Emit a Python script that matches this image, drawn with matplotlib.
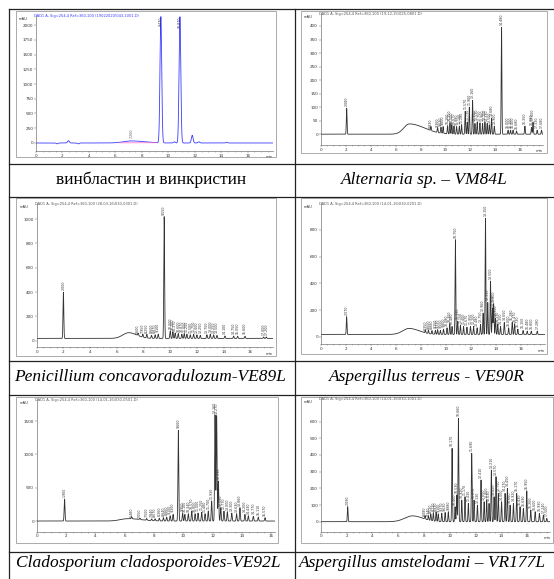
import numpy as np
import matplotlib
matplotlib.use('Agg')
import matplotlib.pyplot as plt
from matplotlib.lines import Line2D
from matplotlib.patches import Rectangle

W, H = 554, 579

# ---- peak tables (retention time, min / height above baseline, mAU)
p1_rt = [1.6, 2.45, 3.2, 9.43, 10.45, 10.87, 11.8, 12.3, 14.4]
p1_h = [-15, 40, -15, 2140, 20, 2140, 130, 20, 10]
p1_hump = [7.2, 35]
p1_base = 0

p2_rt = [2.08, 8.83, 9.36, 9.63, 9.8, 10.16, 10.35, 10.5, 10.67, 10.88, 11.1, 11.28, 11.57,
         11.73, 11.9, 12.16, 12.35, 12.53, 12.75, 12.96, 13.15, 13.33, 13.5, 13.68, 13.9,
         14.48, 15.0, 15.2, 15.4, 15.68, 16.35, 16.88, 17.0, 17.33, 17.68]
p2_h = [95, 15, 18, 22, 25, 30, 40, 35, 30, 28, 30, 35, 85,
        45, 100, 125, 40, 45, 42, 40, 45, 40, 35, 60, 30,
        395, 15, 15, 15, 12, 30, 25, 45, 15, 15]
p2_hump = [7.1, 38]
p2_base = 0

p3_rt = [2.0, 7.6, 7.95, 8.25, 8.6, 8.87, 9.1, 9.55, 10.0, 10.2, 10.37, 10.6, 10.87, 11.05,
         11.25, 11.5, 11.75, 12.0, 12.25, 12.75, 13.0, 13.25, 13.5, 14.1, 14.75, 15.05,
         15.6, 17.0, 17.2]
p3_h = [380, 20, 25, 30, 25, 30, 35, 1000, 60, 55, 45, 40, 35, 40,
        35, 30, 35, 30, 25, 30, 35, 30, 25, 20, 20, 18,
        18, 12, 12]
p3_hump = [6.9, 47]
p3_base = 19

p4_rt = [2.07, 8.35, 8.6, 8.88, 9.15, 9.33, 9.55, 9.8, 10.08, 10.3, 10.48, 10.75, 10.93,
         11.15, 11.4, 11.67, 11.95, 12.2, 12.48, 12.75, 12.96, 13.15, 13.33, 13.55, 13.7,
         13.8, 13.95, 14.13, 14.35, 14.65, 15.0, 15.28, 15.47, 15.73, 16.15, 16.48, 16.8, 17.28]
p4_h = [133, 20, 25, 25, 30, 35, 30, 40, 50, 80, 60, 710, 100,
        70, 60, 55, 60, 60, 50, 75, 160, 870, 240, 400, 200,
        230, 120, 80, 60, 90, 50, 90, 80, 40, 30, 25, 25, 25]
p4_hump = [7.05, 45]
p4_base = 17

p5_rt = [1.9, 6.48, 7.05, 7.5, 7.84, 8.07, 8.36, 8.64, 8.86, 9.1, 9.3, 9.66, 9.95, 10.1,
         10.34, 10.57, 10.8, 11.0, 11.25, 11.48, 11.7, 11.93, 12.16, 12.27, 12.39, 12.55,
         12.77, 13.0, 13.3, 13.63, 13.86, 14.2, 14.43, 14.77, 15.11, 15.57]
p5_h = [330, 30, 20, 25, 25, 30, 40, 50, 60, 80, 100, 1360, 120, 100,
        110, 150, 110, 120, 130, 110, 150, 300, 1590, 1580, 600, 200,
        150, 140, 120, 110, 200, 100, 80, 70, 60, 50]
p5_hump = [6.2, 35]
p5_base = 0

p6_rt = [2.09, 8.08, 8.34, 8.52, 8.72, 8.93, 9.1, 9.37, 9.63, 9.88, 10.17, 10.4, 10.53,
         10.66, 10.92, 11.17, 11.43, 11.69, 11.87, 12.13, 12.41, 12.65, 12.85, 13.03, 13.21,
         13.42, 13.57, 13.75, 14.0, 14.27, 14.45, 14.66, 14.92, 15.17, 15.43, 15.69, 15.95,
         16.26, 16.6, 16.93, 17.24, 17.5]
p6_h = [90, 20, 25, 40, 50, 55, 45, 50, 55, 60, 440, 90, 160,
        620, 130, 150, 110, 410, 130, 100, 250, 120, 130, 110, 310,
        150, 270, 170, 120, 170, 200, 100, 110, 170, 90, 80, 185,
        70, 60, 50, 40, 20]
p6_hump = [7.1, 35]
p6_base = 0

captions = ['винбластин и винкристин', 'Alternaria sp. – VM84L',
            'Penicillium concavoradulozum-VE89L', 'Aspergillus terreus - VE90R',
            'Cladosporium cladosporoides-VE92L', 'Aspergillus amstelodami – VR177L']
headers = ['DAD1 A, Sig=254,4 Ref=360,100 (19022020\\043-1001.D)',
           'DAD1 A, Sig=254,4 Ref=360,100 (19-12-15\\025-0801.D)',
           'DAD1 A, Sig=254,4 Ref=360,100 (28-03-16\\030-0301.D)',
           'DAD1 A, Sig=254,4 Ref=360,100 (14-01-16\\030-0201.D)',
           'DAD1 A, Sig=254,4 Ref=360,100 (14-01-16\\030-0501.D)',
           'DAD1 A, Sig=254,4 Ref=360,100 (14-01-16\\030-1001.D)']

panels = [
    dict(rt=p1_rt, h=p1_h, hump=p1_hump, base=p1_base, box=(36, 273, 15, 151),
         frame=(16, 11, 276, 157), xmax=17.9, ylim=(-136, 2170), ystep=250, ytop=2000,
         sig=0.065, wl=0.6, wr=1.0, color='#3b3bff', lab_min=200, unit=True),
    dict(rt=p2_rt, h=p2_h, hump=p2_hump, base=p2_base, box=(320.7, 543, 13, 145),
         frame=(300.7, 11, 547, 153), xmax=17.8, ylim=(-40, 448), ystep=50, ytop=400,
         sig=0.028, wl=0.45, wr=1.2, color='#333333', lab_min=0, unit=True),
    dict(rt=p3_rt, h=p3_h, hump=p3_hump, base=p3_base, box=(36.7, 273, 203.3, 347.3),
         frame=(16, 198, 276, 356), xmax=17.7, ylim=(-54, 1129), ystep=200, ytop=1000,
         sig=0.03, wl=0.45, wr=0.6, color='#333333', lab_min=0, unit=True),
    dict(rt=p4_rt, h=p4_h, hump=p4_hump, base=p4_base, box=(320.7, 545, 203.3, 344.3),
         frame=(300.7, 198, 547, 354), xmax=17.9, ylim=(-57, 1000), ystep=200, ytop=800,
         sig=0.028, wl=0.5, wr=0.8, color='#333333', lab_min=0, unit=True),
    dict(rt=p5_rt, h=p5_h, hump=p5_hump, base=p5_base, box=(36.7, 275, 399, 531.7),
         frame=(16, 397, 278, 543), xmax=16.25, ylim=(-160, 1830), ystep=500, ytop=1500,
         sig=0.028, wl=0.5, wr=0.9, color='#333333', lab_min=0, unit=False),
    dict(rt=p6_rt, h=p6_h, hump=p6_hump, base=p6_base, box=(320.7, 550, 398.3, 531.7),
         frame=(300.7, 397, 553, 543), xmax=17.75, ylim=(-60, 740), ystep=100, ytop=600,
         sig=0.028, wl=0.6, wr=0.8, color='#333333', lab_min=0, unit=True),
]

fig = plt.figure(figsize=(W / 100, H / 100), dpi=100)
fig.patch.set_facecolor('white')


def fx(x):
    return x / W


def fy(y):
    return 1 - y / H


for i, p in enumerate(panels):
    fl, ft, fr, fb = p['frame']
    fig.add_artist(Rectangle((fx(fl), fy(fb)), (fr - fl) / W, (fb - ft) / H,
                             transform=fig.transFigure, fill=False, ec='#8a8a8a', lw=0.5))
    l, r, t, b = p['box']
    ax = fig.add_axes([fx(l), fy(b), (r - l) / W, (b - t) / H])
    ax.set_xlim(0, p['xmax'])
    ax.set_ylim(*p['ylim'])

    x = np.linspace(0, p['xmax'], 6000)
    y = np.full_like(x, float(p['base']))
    for rt, h in zip(p['rt'], p['h']):
        y += h * np.exp(-0.5 * ((x - rt) / p['sig']) ** 2)
    hrt, hh = p['hump']
    w = np.where(x < hrt, p['wl'], p['wr'])
    y += hh * np.exp(-0.5 * ((x - hrt) / w) ** 2)
    ax.plot(x, y, color=p['color'], lw=0.6)
    if i == 0:
        ax.plot([6.3, 9.1], [2, 4], color='#ff66cc', lw=0.5)

    # peak labels (retention times), rotated like the instrument printout
    upp = (p['ylim'][1] - p['ylim'][0]) / (b - t)
    lab_len = 11 * upp
    for rt, h in zip(p['rt'], p['h']):
        if h < p['lab_min'] or h <= 0:
            continue
        top = p['base'] + h + 2 * upp
        if top + lab_len > p['ylim'][1]:
            ax.text(rt, p['ylim'][1] - upp, '%.3f' % rt, rotation=90, fontsize=2.3,
                    ha='center', va='top', color='#333333', clip_on=False)
        else:
            ax.text(rt, top, '%.3f' % rt, rotation=90, fontsize=2.3,
                    ha='center', va='bottom', color='#333333')
    if i == 0:
        ax.text(hrt, p['base'] + hh + 3 * upp, '%.3f' % hrt, rotation=90, fontsize=2.3,
                ha='center', va='bottom', color='#555555')

    for s in ['top', 'right']:
        ax.spines[s].set_visible(False)
    for s in ['left', 'bottom']:
        ax.spines[s].set_linewidth(0.4)
        ax.spines[s].set_color('#555555')
    ax.set_yticks(np.arange(0, p['ytop'] + 1, p['ystep']))
    ax.set_xticks(np.arange(0, p['xmax'], 2))
    ax.set_xticks(np.arange(0, p['xmax'], 0.5), minor=True)
    ax.tick_params(axis='both', labelsize=3, length=1.2, width=0.3, pad=0.8,
                   colors='#555555', labelcolor='#333333')
    ax.tick_params(axis='x', which='minor', length=0.7, width=0.3, colors='#555555')
    ax.patch.set_alpha(0)
    ax.text(-0.035, 0.985, 'mAU', transform=ax.transAxes, fontsize=2.6,
            ha='right', va='top', color='#333333')
    if p['unit']:
        ax.text(1.0, -0.03, 'min', transform=ax.transAxes, fontsize=2.6,
                ha='right', va='top', color='#333333')
    fig.text(fx(l - 2), fy(t - 1), headers[i], fontsize=2.6,
             color='#3b3bff' if i == 0 else '#555555', ha='left', va='top')

# table grid
for yy in [9, 164, 197, 361, 395, 552]:
    fig.add_artist(Line2D([fx(9), fx(554)], [fy(yy), fy(yy)], color='#222222', lw=0.9))
for xx in [9, 294.5]:
    fig.add_artist(Line2D([fx(xx), fx(xx)], [fy(9), fy(579)], color='#222222', lw=0.9))

cap_pos = [(151, 180), (424, 180), (150, 377), (427, 377), (148, 563), (422, 563)]
for k, (cx, cy) in enumerate(cap_pos):
    fig.text(fx(cx), fy(cy), captions[k], fontsize=12.5, family='Liberation Serif',
             style='normal' if k == 0 else 'italic', ha='center', va='center')

fig.savefig('out.png', dpi=100)
